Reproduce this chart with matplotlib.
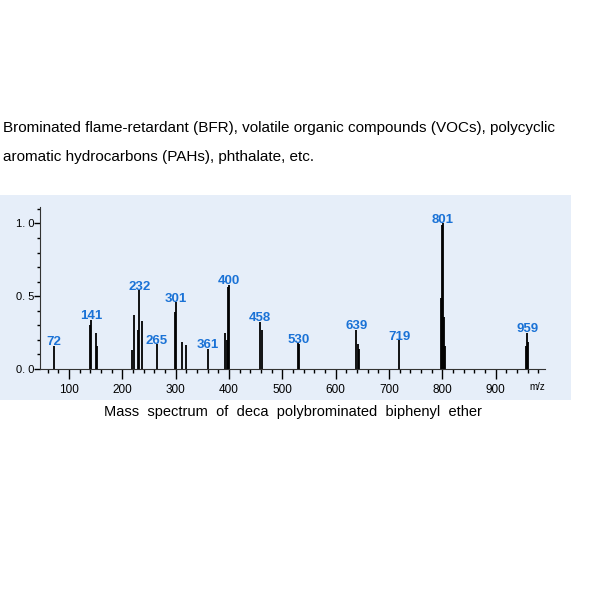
import matplotlib.pyplot as plt
from matplotlib.patches import Rectangle
from matplotlib.ticker import MultipleLocator

# peak list (m/z, relative intensity)
mz = [72, 139, 141, 151, 153, 219, 221, 230, 232, 236, 265, 299, 301, 312, 320,
      361, 393, 396, 398, 400, 458, 462, 529, 532, 639, 641, 644, 719,
      797, 799, 801, 803, 805, 957, 959, 961]
intensity = [0.16, 0.30, 0.34, 0.25, 0.16, 0.13, 0.37, 0.27, 0.54, 0.33, 0.17, 0.39, 0.46, 0.185, 0.167,
             0.14, 0.25, 0.20, 0.56, 0.58, 0.325, 0.265, 0.18, 0.17, 0.27, 0.175, 0.14, 0.20,
             0.49, 0.99, 1.0, 0.36, 0.16, 0.155, 0.25, 0.185]
labeled = [72, 141, 232, 265, 301, 361, 400, 458, 530, 639, 719, 801, 959]
label_height = [0.16, 0.34, 0.54, 0.17, 0.46, 0.14, 0.58, 0.325, 0.18, 0.27, 0.20, 1.0, 0.25]

header = ("Brominated flame-retardant (BFR), volatile organic compounds (VOCs), polycyclic\n"
          "aromatic hydrocarbons (PAHs), phthalate, etc.")
caption = "Mass  spectrum  of  deca  polybrominated  biphenyl  ether"

plt.rcParams['font.family'] = ['Liberation Sans', 'DejaVu Sans']

fig = plt.figure(figsize=(6, 6), dpi=100)
fig.patch.set_facecolor('white')

# light blue panel behind the chart
fig.patches.append(Rectangle((0, 200 / 600), 571 / 600, 205 / 600, transform=fig.transFigure,
                             facecolor='#e6eef9', edgecolor='none', zorder=-10))

fig.text(0.005, 1 - 128 / 600, header.split('\n')[0], fontsize=11, va='center', ha='left')
fig.text(0.005, 1 - 157 / 600, header.split('\n')[1], fontsize=11, va='center', ha='left')

ax = fig.add_axes([40 / 600, 1 - 369 / 600, 505 / 600, (369 - 206.7) / 600])
ax.set_facecolor('none')
ax.vlines(mz, 0, intensity, color='black', linewidth=1.3)
for m, h in zip(labeled, label_height):
    ax.annotate(str(m), (m, h), xytext=(0, -2), textcoords='offset points',
                color='#1a72d6', fontsize=9.5, fontweight='bold', ha='center', va='bottom')

ax.set_xlim(45.6, 992.6)
ax.set_ylim(0, 1.115)
ax.spines['top'].set_visible(False)
ax.spines['right'].set_visible(False)
ax.spines['left'].set_color('#333333')
ax.spines['bottom'].set_color('#333333')

ax.set_xticks([100, 200, 300, 400, 500, 600, 700, 800, 900])
ax.xaxis.set_minor_locator(MultipleLocator(20))
ax.tick_params(axis='x', which='major', length=7.5, width=1, direction='out', labelsize=8.5, pad=3)
ax.tick_params(axis='x', which='minor', length=3, width=1, direction='out')
ax.set_yticks([0, 0.5, 1.0])
ax.set_yticklabels(['0. 0', '0. 5', '1. 0'])
ax.yaxis.set_minor_locator(MultipleLocator(0.1))
ax.tick_params(axis='y', which='major', length=4, width=1, direction='out', labelsize=8, pad=0)
ax.tick_params(axis='y', which='minor', length=2.5, width=1, direction='out')

fig.text(537 / 600, 1 - 387 / 600, 'm/z', fontsize=7, ha='center', va='center')
fig.text(293 / 600, 1 - 412 / 600, caption, fontsize=10.5, ha='center', va='center')

fig.savefig('out.png', dpi=100)
